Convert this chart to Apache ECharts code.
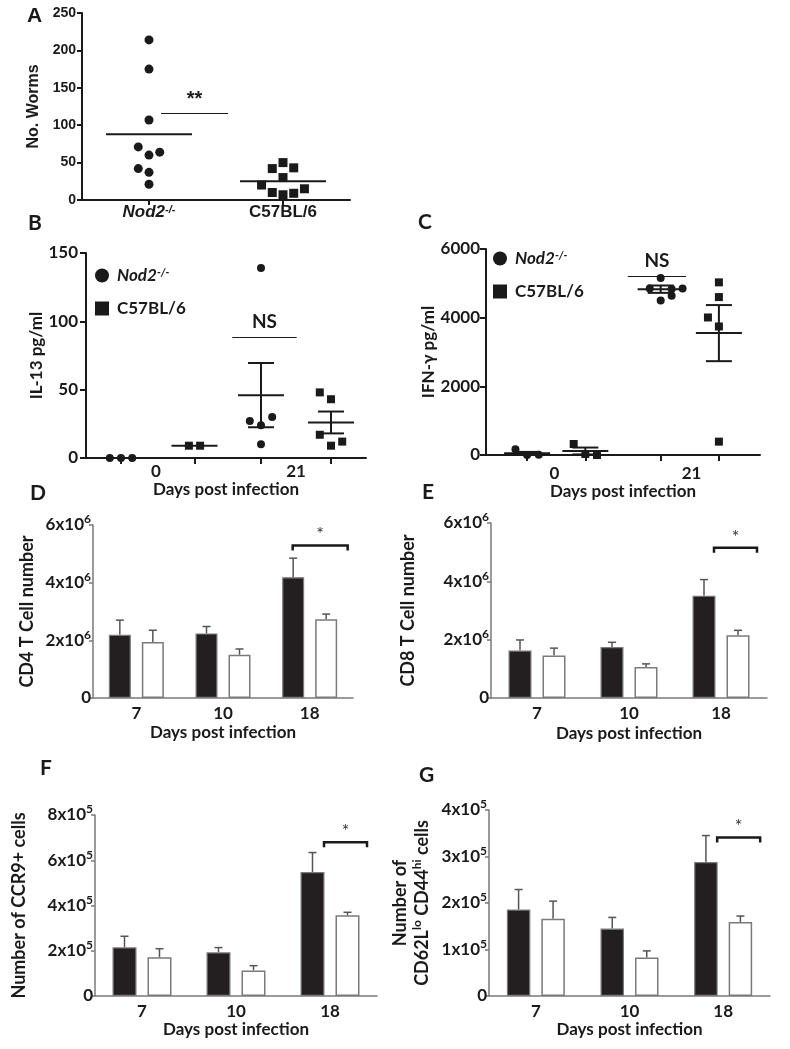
<!DOCTYPE html>
<html>
<head>
<meta charset="utf-8">
<script src="https://cdn.jsdelivr.net/npm/echarts@6/dist/echarts.min.js"></script>
<style>
  html, body { margin: 0; padding: 0; background: #fff; }
  #chart { width: 790px; height: 1049px; }
</style>
</head>
<body>
<div id="chart"></div>
<script>
// ---- A: worm counts (x = strain position + jitter) ----
const wormStrains = ['Nod2', 'C57BL/6'];
const wormsNod2 = [214, 175, 107, 71, 64, 60, 42, 37, 21];
const wormsNod2Jitter = [0, 0, 0, -0.08, 0.08, 0, -0.08, 0, 0];
const wormsB6 = [50, 42, 43, 30, 20, 15, 10, 9, 7];
const wormsB6Jitter = [0, -0.08, 0.08, 0, -0.16, 0.16, -0.08, 0.08, 0];
const wormsMean = [88, 25];

// ---- B: IL-13 (groups: Nod2 d0, B6 d0, Nod2 d21, B6 d21) ----
const cytoDays = ['0', '21'];
const il13Pos = [0.5, 1.55, 2.5, 3.5];
const il13Nod2 = [[0, 0, 0], [139, 27, 24, 30, 10]];
const il13Nod2Jitter = [[-0.16, 0, 0.16], [0, -0.16, 0, 0.16, 0]];
const il13B6 = [[9, 9], [48, 43, 17, 12, 9]];
const il13B6Jitter = [[-0.08, 0.08], [-0.16, 0, -0.16, 0.16, 0]];
const il13Mean = [0, 9, 46, 26];
const il13Sem = [0, 0, 23.5, 8];
const il13NS = 88;

// ---- C: IFN-gamma ----
const ifnPos = [0.6, 1.45, 2.55, 3.4];
const ifnNod2 = [[170, 0, 10], [5154, 4852, 4833, 4852, 4502, 4638]];
const ifnNod2Jitter = [[-0.17, 0, 0.17], [0, -0.16, 0.16, 0.32, 0, 0.16]];
const ifnB6 = [[320, 30, 0], [5028, 4600, 4006, 3744, 389]];
const ifnB6Jitter = [[-0.17, 0, 0.17], [0, 0, -0.16, 0, 0]];
const ifnMean = [50, 117, 4830, 3550];
const ifnSem = [40, 100, 107, 817];
const ifnNS = 5203;

// ---- D-G: bar panels ----
const days = ['7', '10', '18'];
const cd4Nod2 = [2.19e6, 2.24e6, 4.19e6];
const cd4Nod2Err = [0.51e6, 0.24e6, 0.66e6];
const cd4B6 = [1.94e6, 1.5e6, 2.73e6];
const cd4B6Err = [0.41e6, 0.2e6, 0.18e6];
const cd8Nod2 = [1.63e6, 1.75e6, 3.51e6];
const cd8Nod2Err = [0.36e6, 0.16e6, 0.55e6];
const cd8B6 = [1.46e6, 1.06e6, 2.15e6];
const cd8B6Err = [0.25e6, 0.11e6, 0.17e6];
const ccr9Nod2 = [2.15e5, 1.93e5, 5.48e5];
const ccr9Nod2Err = [0.49e5, 0.21e5, 0.86e5];
const ccr9B6 = [1.71e5, 1.13e5, 3.57e5];
const ccr9B6Err = [0.38e5, 0.21e5, 0.13e5];
const memNod2 = [1.86e5, 1.45e5, 2.88e5];
const memNod2Err = [0.43e5, 0.24e5, 0.57e5];
const memB6 = [1.66e5, 0.83e5, 1.59e5];
const memB6Err = [0.38e5, 0.14e5, 0.13e5];
const sigLevel = [5.29e6, 5.15e6, 6.8e5, 3.41e5];

const LATO = 'Lato';
const ARIAL = 'Liberation Sans';
const INK = '#1a1a1a';
const GRAY = '#7a7a7a';

const chart = echarts.init(document.getElementById('chart'));

const grids = [
  { left: 82, top: 13, width: 268, height: 187 },
  { left: 86, top: 253, width: 280, height: 205 },
  { left: 486, top: 249, width: 274, height: 206 },
  { left: 93, top: 525, width: 260, height: 173 },
  { left: 491, top: 523, width: 276, height: 175 },
  { left: 95, top: 815, width: 282, height: 181 },
  { left: 489, top: 810, width: 281, height: 186 }
];

const latoB = (size) => ({ fontFamily: LATO, fontWeight: 'bold', fontSize: size, color: INK });
const supRich = {
  m: { fontFamily: LATO, fontWeight: 'bold', fontSize: 17, color: INK, lineHeight: 23 },
  s: { fontFamily: LATO, fontWeight: 'bold', fontSize: 12, color: INK, verticalAlign: 'top', lineHeight: 12 }
};

function sciFmt(exp, unit) {
  return v => v === 0 ? '{m|0}' : '{m|' + Math.round(v / unit) + 'x10}{s|' + exp + '}';
}

const xAxes = [];
const yAxes = [];
const series = [];

// mean (+ SEM) bars for scatter panels
function meanRender(half, cap, lw) {
  return function (params, api) {
    const x = api.value(0), m = api.value(1), s = api.value(2);
    const c = api.coord([x, m]);
    const kids = [{ type: 'line', shape: { x1: c[0] - half, y1: c[1], x2: c[0] + half, y2: c[1] }, style: { stroke: INK, lineWidth: lw } }];
    if (s > 0) {
      const t = api.coord([x, m + s]), b = api.coord([x, m - s]);
      kids.push({ type: 'line', shape: { x1: c[0], y1: t[1], x2: c[0], y2: b[1] }, style: { stroke: INK, lineWidth: lw } });
      kids.push({ type: 'line', shape: { x1: c[0] - cap, y1: t[1], x2: c[0] + cap, y2: t[1] }, style: { stroke: INK, lineWidth: lw } });
      kids.push({ type: 'line', shape: { x1: c[0] - cap, y1: b[1], x2: c[0] + cap, y2: b[1] }, style: { stroke: INK, lineWidth: lw } });
    }
    return { type: 'group', children: kids };
  };
}

function sigLine(x1, x2, y, text, dist, size, font) {
  return {
    silent: true, symbol: 'none',
    lineStyle: { color: INK, width: 1.2, type: 'solid' },
    label: { show: true, position: 'insideMiddleTop', distance: dist, formatter: text, fontFamily: font, fontWeight: 'bold', fontSize: size, color: INK },
    data: [[{ coord: [x1, y] }, { coord: [x2, y] }]]
  };
}

// ---- Panel A ----
xAxes.push({
  gridIndex: 0, type: 'value', min: 0.5, max: 2.5,
  axisLine: { lineStyle: { color: INK, width: 2 } },
  axisTick: { customValues: [1, 2], length: 5, lineStyle: { color: INK, width: 2 } },
  axisLabel: {
    customValues: [1, 2], margin: 4,
    formatter: v => v === 1 ? '{i|' + wormStrains[0] + '}{s|-/-}' : '{n|' + wormStrains[1] + '}',
    rich: {
      i: { fontFamily: ARIAL, fontWeight: 'bold', fontStyle: 'italic', fontSize: 17, color: INK },
      s: { fontFamily: ARIAL, fontWeight: 'bold', fontStyle: 'italic', fontSize: 11, color: INK, verticalAlign: 'top' },
      n: { fontFamily: ARIAL, fontWeight: 'bold', fontSize: 17, color: INK }
    }
  },
  splitLine: { show: false }
});
yAxes.push({
  gridIndex: 0, type: 'value', min: 0, max: 250, interval: 50,
  name: 'No. Worms', nameLocation: 'middle', nameGap: 40,
  nameTextStyle: { fontFamily: ARIAL, fontWeight: 'bold', fontSize: 16, color: INK },
  axisLine: { show: true, lineStyle: { color: INK, width: 2 } },
  axisTick: { show: true, length: 5, lineStyle: { color: INK, width: 2 } },
  axisLabel: { margin: 6, fontFamily: ARIAL, fontWeight: 'bold', fontSize: 14, color: INK },
  splitLine: { show: false }
});
series.push({
  type: 'scatter', name: 'A-Nod2', xAxisIndex: 0, yAxisIndex: 0, symbol: 'circle', symbolSize: 9,
  itemStyle: { color: INK, opacity: 1 }, data: wormsNod2.map((v, i) => [1 + wormsNod2Jitter[i], v]),
  markLine: sigLine(1.09, 1.59, 116, '**', 4, 20, ARIAL)
});
series.push({
  type: 'scatter', name: 'A-B6', xAxisIndex: 0, yAxisIndex: 0, symbol: 'rect', symbolSize: 9,
  itemStyle: { color: INK, opacity: 1 }, data: wormsB6.map((v, i) => [2 + wormsB6Jitter[i], v])
});
series.push({
  type: 'custom', xAxisIndex: 0, yAxisIndex: 0, renderItem: meanRender(43, 0, 2), silent: true,
  data: wormsMean.map((m, i) => [i + 1, m, 0])
});

// ---- Panels B and C (scatter with mean +/- SEM) ----
function scatterPanel(gi, pos, nod2, nod2J, b6, b6J, mean, sem, yCfg, ns, nsX, lay) {
  xAxes.push({
    gridIndex: gi, type: 'value', min: 0, max: 4,
    axisLine: { lineStyle: { color: INK, width: 2 } },
    axisTick: { customValues: pos, length: 6, lineStyle: { color: INK, width: 2 } },
    axisLabel: { customValues: [1, 3], margin: lay.labelMargin, formatter: v => v === 1 ? cytoDays[0] : cytoDays[1], ...latoB(17) },
    name: 'Days post infection', nameLocation: 'middle', nameGap: lay.nameGap, nameTextStyle: latoB(17),
    splitLine: { show: false }
  });
  yAxes.push({
    gridIndex: gi, type: 'value', min: 0, max: yCfg.max, interval: yCfg.interval,
    name: yCfg.name, nameLocation: 'middle', nameGap: lay.yNameGap, nameTextStyle: latoB(17),
    axisLine: { show: true, lineStyle: { color: INK, width: 2 } },
    axisTick: { show: true, length: 6, lineStyle: { color: INK, width: 2 } },
    axisLabel: { margin: lay.yLabelMargin, formatter: v => String(v), ...latoB(17) },
    splitLine: { show: false }
  });
  const ptsN = [], ptsB = [];
  nod2.forEach((g, k) => g.forEach((v, j) => ptsN.push([pos[k * 2] + nod2J[k][j], v])));
  b6.forEach((g, k) => g.forEach((v, j) => ptsB.push([pos[k * 2 + 1] + b6J[k][j], v])));
  series.push({
    type: 'scatter', name: 'Nod2', xAxisIndex: gi, yAxisIndex: gi, symbol: 'circle', symbolSize: 8,
    itemStyle: { color: INK, opacity: 1 }, data: ptsN,
    markLine: sigLine(nsX[0], nsX[1], ns, 'NS', 6, 19, LATO)
  });
  series.push({
    type: 'scatter', name: 'C57BL/6', xAxisIndex: gi, yAxisIndex: gi, symbol: 'rect', symbolSize: 8,
    itemStyle: { color: INK, opacity: 1 }, data: ptsB
  });
  series.push({
    type: 'custom', xAxisIndex: gi, yAxisIndex: gi, renderItem: meanRender(23, 13, 2), silent: true,
    data: mean.map((m, i) => [pos[i], m, sem[i]])
  });
}

scatterPanel(1, il13Pos, il13Nod2, il13Nod2Jitter, il13B6, il13B6Jitter, il13Mean, il13Sem,
  { max: 150, interval: 50, name: 'IL-13 pg/ml' }, il13NS, [2.09, 3.01],
  { labelMargin: 5, nameGap: 19, yNameGap: 41, yLabelMargin: 8 });
scatterPanel(2, ifnPos, ifnNod2, ifnNod2Jitter, ifnB6, ifnB6Jitter, ifnMean, ifnSem,
  { max: 6000, interval: 2000, name: 'IFN-γ pg/ml' }, ifnNS, [2.07, 2.92],
  { labelMargin: 10, nameGap: 24, yNameGap: 48, yLabelMargin: 6 });

// ---- Panels D-G (bars with upward SEM) ----
function barPanel(gi, nod2, nod2Err, b6, b6Err, sig, yCfg, lay) {
  const off = (lay.bw + lay.gap) / 2;
  xAxes.push({
    gridIndex: gi, type: 'category', data: days,
    axisLine: { lineStyle: { color: GRAY, width: 1.5 } },
    axisTick: { alignWithLabel: true, length: 5, lineStyle: { color: GRAY, width: 1.5 } },
    axisLabel: { margin: 7, ...latoB(17) },
    name: 'Days post infection', nameLocation: 'middle', nameGap: lay.nameGap, nameTextStyle: latoB(17)
  });
  yAxes.push({
    gridIndex: gi, type: 'value', min: 0, max: yCfg.max, interval: yCfg.interval,
    name: yCfg.name, nameLocation: 'middle', nameGap: lay.yNameGap,
    nameTextStyle: { ...latoB(18), rich: yCfg.nameRich || {} },
    axisLine: { show: true, lineStyle: { color: GRAY, width: 1.5 } },
    axisTick: { show: true, length: 4, lineStyle: { color: GRAY, width: 1.5 } },
    axisLabel: { margin: 2, formatter: sciFmt(yCfg.exp, yCfg.unit), rich: supRich },
    splitLine: { show: false }
  });
  series.push({
    type: 'bar', xAxisIndex: gi, yAxisIndex: gi, data: nod2, barWidth: lay.bw, barGap: (lay.gap / lay.bw * 100) + '%',
    itemStyle: { color: '#231f20', borderColor: GRAY, borderWidth: 1.2 }, silent: true
  });
  series.push({
    type: 'bar', xAxisIndex: gi, yAxisIndex: gi, data: b6, barWidth: lay.bw, barGap: (lay.gap / lay.bw * 100) + '%',
    itemStyle: { color: '#ffffff', borderColor: GRAY, borderWidth: 1.5 }, silent: true
  });
  const errData = nod2.map((v, i) => [i, v, nod2Err[i], -1]).concat(b6.map((v, i) => [i, v, b6Err[i], 1]));
  series.push({
    type: 'custom', xAxisIndex: gi, yAxisIndex: gi, silent: true, encode: { x: 0, y: 1 },
    data: errData,
    renderItem: (params, api) => {
      const i = api.value(0), v = api.value(1), e = api.value(2), side = api.value(3);
      const b = api.coord([i, v]), t = api.coord([i, v + e]);
      const x = b[0] + side * off;
      const st = { stroke: '#555', lineWidth: 1.5 };
      return {
        type: 'group', children: [
          { type: 'line', shape: { x1: x, y1: b[1], x2: x, y2: t[1] }, style: st },
          { type: 'line', shape: { x1: x - 4, y1: t[1], x2: x + 4, y2: t[1] }, style: st }
        ]
      };
    }
  });
  series.push({
    type: 'custom', xAxisIndex: gi, yAxisIndex: gi, silent: true, encode: { x: 0, y: 1 },
    data: [[2, sig]],
    renderItem: (params, api) => {
      const c = api.coord([api.value(0), api.value(1)]);
      const x1 = c[0] + lay.br[0], x2 = c[0] + lay.br[1];
      return {
        type: 'group', children: [
          { type: 'polyline', shape: { points: [[x1, c[1] + 5], [x1, c[1]], [x2, c[1]], [x2, c[1] + 5]] }, style: { stroke: INK, lineWidth: 2.5, fill: null } },
          { type: 'text', style: { text: '*', x: (x1 + x2) / 2, y: c[1] - 2, textAlign: 'center', textVerticalAlign: 'bottom', fontFamily: LATO, fontSize: 18, fill: '#333' } }
        ]
      };
    }
  });
}

barPanel(3, cd4Nod2, cd4Nod2Err, cd4B6, cd4B6Err, sigLevel[0],
  { max: 6e6, interval: 2e6, exp: 6, unit: 1e6, name: 'CD4 T Cell number' },
  { bw: 22, gap: 11, br: [-17, 38], nameGap: 26, yNameGap: 57 });
barPanel(4, cd8Nod2, cd8Nod2Err, cd8B6, cd8B6Err, sigLevel[1],
  { max: 6e6, interval: 2e6, exp: 6, unit: 1e6, name: 'CD8 T Cell number' },
  { bw: 23, gap: 11, br: [-7, 36], nameGap: 27, yNameGap: 74 });
barPanel(5, ccr9Nod2, ccr9Nod2Err, ccr9B6, ccr9B6Err, sigLevel[2],
  { max: 8e5, interval: 2e5, exp: 5, unit: 1e5, name: 'Number of CCR9+ cells' },
  { bw: 24, gap: 11, br: [-6, 37], nameGap: 25, yNameGap: 67 });
barPanel(6, memNod2, memNod2Err, memB6, memB6Err, sigLevel[3],
  {
    max: 4e5, interval: 1e5, exp: 5, unit: 1e5,
    name: '{n|Number of}\n{n|CD62L}{s|lo}{n| CD44}{s|hi}{n| cells}',
    nameRich: {
      n: { ...latoB(18), lineHeight: 22 },
      s: { ...latoB(12), verticalAlign: 'top', lineHeight: 14 }
    }
  },
  { bw: 23.5, gap: 11, br: [-6, 37], nameGap: 25, yNameGap: 56 });

const legendRich = {
  i: { fontFamily: LATO, fontWeight: 'bold', fontStyle: 'italic', fontSize: 17, color: INK, padding: [0, 0, 0, 3] },
  s: { fontFamily: LATO, fontWeight: 'bold', fontStyle: 'italic', fontSize: 11, color: INK, verticalAlign: 'top' },
  n: { fontFamily: LATO, fontWeight: 'bold', fontSize: 17, color: INK, padding: [0, 0, 0, 3] }
};
function legendAt(left, top) {
  return {
    left, top, orient: 'vertical', itemGap: 16, itemWidth: 14, itemHeight: 14, padding: 0,
    selectedMode: false,
    itemStyle: { color: INK, opacity: 1 },
    data: [{ name: 'Nod2', icon: 'circle' }, { name: 'C57BL/6', icon: 'rect' }],
    formatter: n => n === 'Nod2' ? '{i|Nod2}{s|-/-}' : '{n|C57BL/6}',
    textStyle: { rich: legendRich }
  };
}

const letter = (t, left, top, font) => ({
  text: t, left, top, padding: 0,
  textStyle: { fontFamily: font, fontWeight: 'bold', fontSize: 21, color: INK }
});

chart.setOption({
  animation: false,
  backgroundColor: '#fff',
  title: [
    letter('A', 27, 6, ARIAL),
    letter('B', 28, 213, LATO),
    letter('C', 418, 212, LATO),
    letter('D', 30, 483, LATO),
    letter('E', 422, 482, LATO),
    letter('F', 40, 758, LATO),
    letter('G', 419, 765, LATO)
  ],
  legend: [legendAt(95, 267), legendAt(493, 250)],
  grid: grids,
  xAxis: xAxes,
  yAxis: yAxes,
  series
});
</script>
</body>
</html>
